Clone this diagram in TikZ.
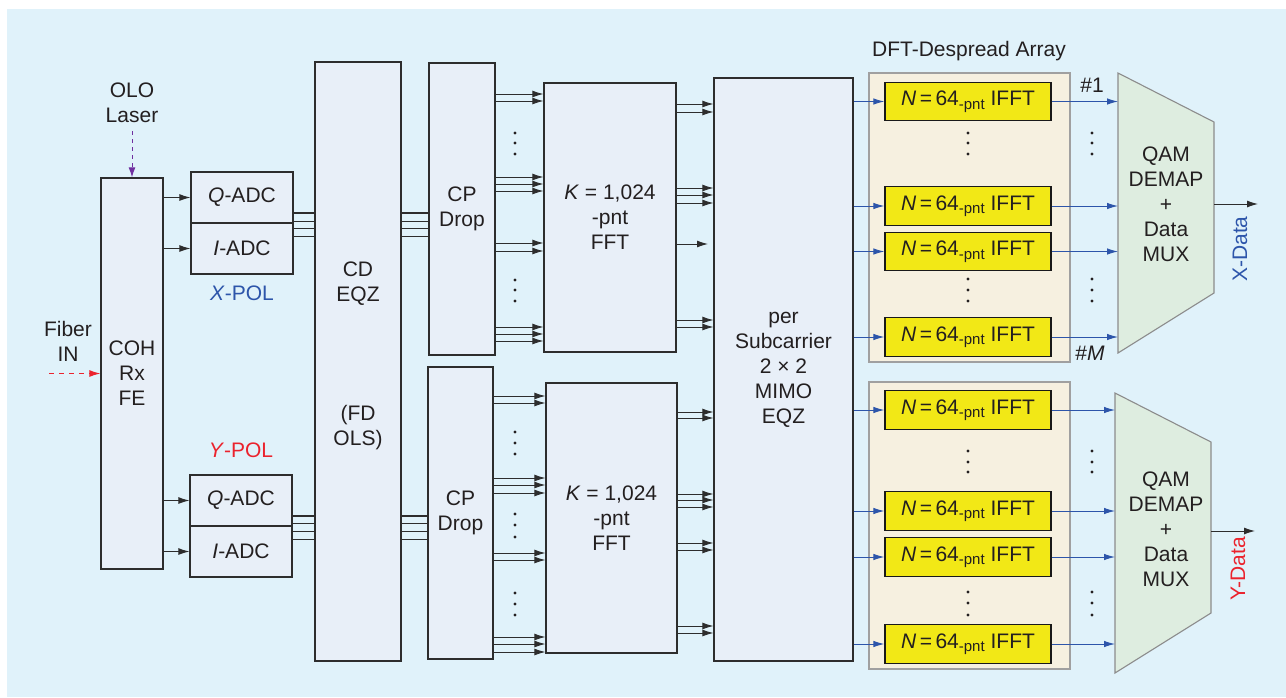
\documentclass[tikz,border=0pt]{standalone}
\usepackage{fontspec}
\setmainfont{Liberation Sans}
\usetikzlibrary{arrows.meta}
\definecolor{bg}{RGB}{224,242,250}
\definecolor{boxfill}{RGB}{232,239,248}
\definecolor{boxline}{RGB}{45,45,45}
\definecolor{txt}{RGB}{35,31,32}
\definecolor{ifftyel}{RGB}{242,232,22}
\definecolor{panelfill}{RGB}{246,240,224}
\definecolor{panelline}{RGB}{160,160,160}
\definecolor{trapfill}{RGB}{222,237,224}
\definecolor{trapline}{RGB}{140,140,140}
\definecolor{ablue}{RGB}{45,85,170}
\definecolor{ared}{RGB}{235,35,45}
\definecolor{apurple}{RGB}{112,48,160}
\newcommand{\pnt}{{\fontsize{15}{15}\selectfont\raisebox{-3.5pt}{-pnt}}}
\begin{document}
\begin{tikzpicture}[x=1pt,y=-1pt,
  font=\fontsize{21}{25}\selectfont,
  box/.style={draw=boxline, fill=boxfill, line width=1.3pt, inner sep=0pt, align=center, text=txt},
  ifftbox/.style={draw=black!90, fill=ifftyel, line width=1.3pt, inner sep=0pt, minimum width=166, minimum height=38.5, text=txt},
  panel/.style={draw=panelline, fill=panelfill, line width=1.3pt, inner sep=0pt},
  trap/.style={draw=trapline, fill=trapfill, line width=1.1pt},
  lbl/.style={inner sep=0pt, align=center, text=txt},
  arr/.style={draw=boxline, line width=0.9pt, -{Latex[length=11pt,width=7pt]}},
  barr/.style={draw=ablue, line width=0.9pt, -{Latex[length=11pt,width=6.5pt]}},
  bus/.style={draw=boxline, line width=0.9pt},
  dotc/.style={fill=txt}
]
\useasboundingbox (0,0) rectangle (1286,697);
\fill[bg] (7,9) rectangle (1286,697);

% ---------- front end ----------
\node[box, minimum width=62, minimum height=391] (coh) at (132,373.5) {COH\\Rx\\FE};
\node[lbl] (olo) at (132,103) {OLO\\Laser};
\node[lbl] (fiber) at (68,341) {Fiber\\IN};
\coordinate (fibstart) at (49,373.5);
\draw[draw=apurple, line width=1pt, dash pattern=on 4pt off 4pt, -{Latex[length=10pt,width=7pt]}] (olo.south) ++(0,8) -- (coh.north);
\draw[draw=ared, line width=1pt, dash pattern=on 5pt off 5pt, -{Latex[length=11pt,width=7pt]}] (fibstart) -- (coh.west);

% ADCs
\node[box, minimum width=102, minimum height=51] (xq) at (242,197.5) {\textit{Q}-ADC};
\node[box, minimum width=102, minimum height=51] (xi) at (242,248.5) {\textit{I}-ADC};
\node[box, minimum width=102, minimum height=51] (yq) at (241,500.5) {\textit{Q}-ADC};
\node[box, minimum width=102, minimum height=51] (yi) at (241,551.5) {\textit{I}-ADC};
\node[lbl, text=ablue] (xpol) at (242,293) {\textit{X}-POL};
\node[lbl, text=ared] (ypol) at (241,450) {\textit{Y}-POL};

\draw[arr] (coh.east |- xq.west) -- (xq.west);
\draw[arr] (coh.east |- xi.west) -- (xi.west);
\draw[arr] (coh.east |- yq.west) -- (yq.west);
\draw[arr] (coh.east |- yi.west) -- (yi.west);

% CD EQZ
\node[box, minimum width=86, minimum height=599] (cd) at (358,361.5) {};
\node[lbl] (cdt1) at (358,283.5) {CD\\EQZ};
\node[lbl] (cdt2) at (358,428) {(FD\\OLS)};

% CP drop
\node[box, minimum width=66, minimum height=292] (cpx) at (462,209) {CP\\Drop};
\node[box, minimum width=65, minimum height=292] (cpy) at (460.5,513) {CP\\Drop};

% buses
\draw[bus, line width=1.6pt] (xq.east |- 0,213) -- (cd.west |- 0,213);
\foreach \y in {221,228,236} \draw[bus] (xq.east |- 0,\y) -- (cd.west |- 0,\y);
\draw[bus, line width=1.6pt] (cd.east |- 0,213) -- (cpx.west |- 0,213);
\foreach \y in {221,228,236} \draw[bus] (cd.east |- 0,\y) -- (cpx.west |- 0,\y);
\draw[bus, line width=1.6pt] (yq.east |- 0,516) -- (cd.west |- 0,516);
\foreach \y in {523,531,539} \draw[bus] (yq.east |- 0,\y) -- (cd.west |- 0,\y);
\draw[bus, line width=1.6pt] (cd.east |- 0,516) -- (cpy.west |- 0,516);
\foreach \y in {523,531,539} \draw[bus] (cd.east |- 0,\y) -- (cpy.west |- 0,\y);

% FFTs
\node[box, minimum width=132, minimum height=269] (fftx) at (610,217.5) {\textit{K} = 1,024\\-pnt\\FFT};
\node[box, minimum width=131, minimum height=270] (ffty) at (611.5,518) {\textit{K} = 1,024\\-pnt\\FFT};

\foreach \y in {94,101,177,184,191,243,251,327,334,341}
  \draw[arr] (cpx.east |- 0,\y) -- (fftx.west |- 0,\y);
\foreach \y in {396,403,478,485,493,553,560,637,644,652}
  \draw[arr] (cpy.east |- 0,\y) -- (ffty.west |- 0,\y);
\foreach \y in {133,143,154,280,290,301,432,443,454,514,525,537,593,604,615}
  \fill[dotc] (515,\y) circle (1.6);

% MIMO
\node[box, minimum width=139, minimum height=583] (mimo) at (783.5,369.5) {per\\Subcarrier\\2 × 2\\MIMO\\EQZ};

\coordinate (short) at (708,244);
\foreach \y in {104,112,188,195,203,320,327}
  \draw[arr] (fftx.east |- 0,\y) -- (mimo.west |- 0,\y);
\draw[arr] (fftx.east |- short) -- (short);
\foreach \y in {412,418,494,500,507,543,550,626,633}
  \draw[arr] (ffty.east |- 0,\y) -- (mimo.west |- 0,\y);

% DFT-despread panels
\node[lbl] (dfttitle) at (969,51) {DFT-Despread Array};
\node[panel, minimum width=201, minimum height=289] (panx) at (969.5,217.5) {};
\node[panel, minimum width=201, minimum height=287] (pany) at (969.5,525.5) {};

\node[ifftbox] (ix1) at (968,101.5) {\textit{N}\,=\,64\pnt\ IFFT};
\node[ifftbox] (ix2) at (968,206) {\textit{N}\,=\,64\pnt\ IFFT};
\node[ifftbox] (ix3) at (968,251.5) {\textit{N}\,=\,64\pnt\ IFFT};
\node[ifftbox] (ix4) at (968,337) {\textit{N}\,=\,64\pnt\ IFFT};
\node[ifftbox] (iy1) at (968,410) {\textit{N}\,=\,64\pnt\ IFFT};
\node[ifftbox] (iy2) at (968,511) {\textit{N}\,=\,64\pnt\ IFFT};
\node[ifftbox] (iy3) at (968,557) {\textit{N}\,=\,64\pnt\ IFFT};
\node[ifftbox] (iy4) at (968,644) {\textit{N}\,=\,64\pnt\ IFFT};

\foreach \n in {ix1,ix2,ix3,ix4,iy1,iy2,iy3,iy4}
  \draw[barr] (mimo.east |- \n.west) -- (\n.west);

\foreach \y in {133,143,154,279,290,301,451,462,472,592,603,615} {
  \fill[dotc] (968,\y) circle (1.6);
  \fill[dotc] (1092,\y) circle (1.6);
}

% QAM demap trapezoids
\draw[trap] (1118,73) -- (1214,122) -- (1214,293) -- (1118,353) -- cycle;
\draw[trap] (1115,393) -- (1211,442) -- (1211,613) -- (1115,673) -- cycle;
\node[lbl] (qamx) at (1166,204) {QAM\\DEMAP\\+\\Data\\MUX};
\node[lbl] (qamy) at (1166,529) {QAM\\DEMAP\\+\\Data\\MUX};
\coordinate (qxl) at (1118,0);
\coordinate (qyl) at (1115,0);
\foreach \n in {ix1,ix2,ix3,ix4}
  \draw[barr] (\n.east) -- (\n.east -| qxl);
\foreach \n in {iy1,iy2,iy3,iy4}
  \draw[barr] (\n.east) -- (\n.east -| qyl);

\node[lbl] (n1) at (1092,85) {\#1};
\node[lbl] (nM) at (1090,353) {\#\textit{M}};

\coordinate (qxo) at (1214,204);
\coordinate (xend) at (1258,204);
\coordinate (qyo) at (1211,531);
\coordinate (yend) at (1255,531);
\draw[arr] (qxo) -- (xend);
\draw[arr] (qyo) -- (yend);
\node[lbl, text=ablue, rotate=90] (xdata) at (1240,249) {X-Data};
\node[lbl, text=ared, rotate=90] (ydata) at (1238,569) {Y-Data};
\end{tikzpicture}
\end{document}
